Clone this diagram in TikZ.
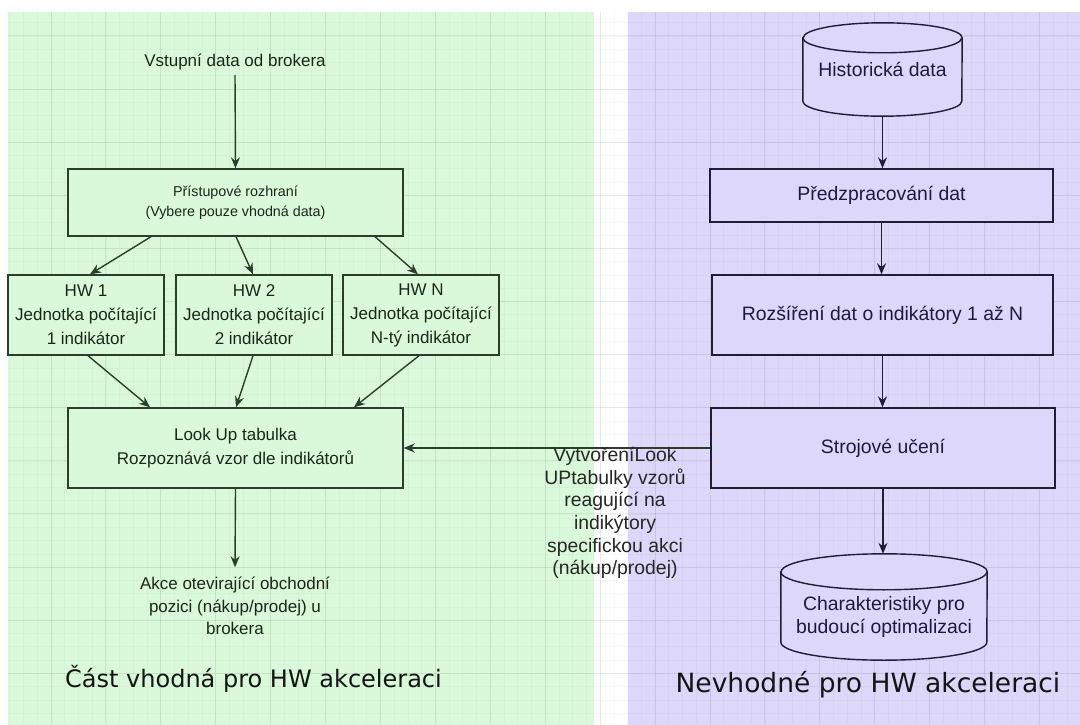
\documentclass[tikz,border=0pt]{standalone}
\usepackage{fontspec}
\setmainfont{Liberation Sans}
\newfontfamily\titlefont{DejaVu Sans}
\usetikzlibrary{arrows.meta}

\definecolor{greenbg}{RGB}{218,249,218}
\definecolor{purplebg}{RGB}{221,216,250}
\definecolor{greenline}{RGB}{42,62,42}
\definecolor{purpleline}{RGB}{32,30,52}
\definecolor{greentext}{RGB}{28,38,24}
\definecolor{purpletext}{RGB}{30,26,60}

\pgfdeclarelayer{canvas}
\pgfdeclarelayer{shapes}
\pgfsetlayers{canvas,shapes,main}

% cylinder outline drawn inside the bounds of a named node
% #1 node, #2 half width, #3 vertical radius of the caps
\newcommand\drawcyl[3]{%
  \path[draw=purpleline, fill=purplebg, line width=1.4pt]
    ([yshift=-#3]#1.north west) -- ([yshift=#3]#1.south west)
    arc[start angle=180, end angle=360, x radius=#2, y radius=#3]
    -- ([yshift=-#3]#1.north east)
    arc[start angle=0, end angle=180, x radius=#2, y radius=#3] -- cycle;
  \draw[purpleline, line width=1.4pt] ([yshift=-#3]#1.north west)
    arc[start angle=180, end angle=360, x radius=#2, y radius=#3];
}

\begin{document}
\begin{tikzpicture}[x=1pt, y=-1pt,
  fsL/.style={font=\fontsize{17}{24}\selectfont},
  fsS/.style={font=\fontsize{14.3}{20}\selectfont},
  fsR/.style={font=\fontsize{19.4}{22.5}\selectfont},
  gbox/.style={draw=greenline, fill=greenbg, line width=1.4pt, text=greentext,
    align=center, inner sep=0pt, fsL},
  pbox/.style={draw=purpleline, fill=purplebg, line width=1.4pt, text=purpletext,
    align=center, inner sep=0pt, fsR},
  gtext/.style={text=greentext, align=center, fsL},
  ptext/.style={text=purpletext, align=center, fsR},
  garr/.style={draw=greenline, line width=1.4pt, -{Stealth[length=11pt, width=9pt]}},
  parr/.style={draw=purpleline, line width=1.4pt, -{Stealth[length=11pt, width=9pt]}},
  gridminor/.style={draw=black, opacity=0.022, line width=0.8pt},
  gridmajor/.style={draw=black, opacity=0.065, line width=1pt},
  title/.style={text=black!92}
]
\useasboundingbox (0,0) rectangle (1080,725);

% ---- page, two regions and the grid ----
\begin{pgfonlayer}{canvas}
  \fill[white] (0,0) rectangle (1080,725);
  \fill[greenbg] (8,12) rectangle (594,725);
  \fill[purplebg] (628,12) rectangle (1080,725);
  \begin{scope}
    \clip (8,12) rectangle (1080,725);
    \foreach \i in {0,...,78} {
      \pgfmathsetmacro\xx{9.8+13.73*\i}
      \draw[gridminor] (\xx,12) -- (\xx,725);
    }
    \foreach \i in {0,...,54} {
      \pgfmathsetmacro\yy{9.44+13.28*\i}
      \draw[gridminor] (8,\yy) -- (1080,\yy);
    }
    \foreach \i in {-1,...,19} {
      \pgfmathsetmacro\xx{51.0+54.92*\i}
      \draw[gridmajor] (\xx,12) -- (\xx,725);
    }
    \foreach \i in {-1,...,13} {
      \pgfmathsetmacro\yy{36.0+53.1*\i}
      \draw[gridmajor] (8,\yy) -- (1080,\yy);
    }
  \end{scope}
\end{pgfonlayer}

% ---- hardware part ----
\node[gtext, inner sep=5pt] (src) at (235,62) {Vstupní data od brokera};
\node[gbox, fsS, minimum width=335pt, minimum height=67pt] (acc) at (235.5,202.5)
  {Přístupové rozhraní\\(Vybere pouze vhodná data)};
\node[gbox, minimum width=156pt, minimum height=80pt] (hw1) at (86,315)
  {HW 1\\Jednotka počítající\\1 indikátor};
\node[gbox, minimum width=156pt, minimum height=80pt] (hw2) at (254,315)
  {HW 2\\Jednotka počítající\\2 indikátor};
\node[gbox, minimum width=156pt, minimum height=80pt] (hwn) at (421,315)
  {HW N\\Jednotka počítající\\N-tý indikátor};
\node[gbox, minimum width=335pt, minimum height=80pt] (lookup) at (235.5,448)
  {Look Up tabulka\\Rozpoznává vzor dle indikátorů};
\node[gtext, font=\fontsize{17}{22.2}\selectfont, inner xsep=2pt, inner ysep=10pt]
  (akce) at (235,606) {Akce otevirající obchodní\\pozici (nákup/prodej) u\\brokera};

\draw[garr] (src.south) -- (acc.north);
\draw[garr] ([xshift=-84.5pt]acc.south) -- ([xshift=4pt]hw1.north);
\draw[garr] ([xshift=0.5pt]acc.south) -- ([xshift=-1pt]hw2.north);
\draw[garr] ([xshift=139.5pt]acc.south) -- ([xshift=-3pt]hwn.north);
\draw[garr] ([xshift=2pt]hw1.south) -- ([xshift=-85.5pt]lookup.north);
\draw[garr] ([xshift=-1pt]hw2.south) -- ([xshift=0.5pt]lookup.north);
\draw[garr] ([xshift=-2pt]hwn.south) -- ([xshift=118.5pt]lookup.north);
\draw[garr] (lookup.south) -- (akce.north);

% ---- software part ----
\node[ptext, inner sep=0pt, minimum width=159pt, minimum height=93pt] (hist) at (882.5,69.5)
  {Historická data};
\node[pbox, minimum width=343pt, minimum height=53pt] (prep) at (881.5,195.5)
  {Předzpracování dat};
\node[pbox, minimum width=341pt, minimum height=80pt] (ext) at (882.5,315)
  {Rozšíření dat o indikátory 1 až N};
\node[pbox, minimum width=344pt, minimum height=80pt] (ml) at (883,448)
  {Strojové učení};
\node[inner sep=0pt, minimum width=206pt, minimum height=106pt] (char) at (884,607) {};
\node[ptext] (charlbl) at (884,617)
  {Charakteristiky pro\\budoucí optimalizaci};

\begin{pgfonlayer}{shapes}
  \drawcyl{hist}{79.5pt}{15pt}
  \drawcyl{char}{103pt}{18pt}
\end{pgfonlayer}

\draw[parr] (hist.south) -- (hist.south |- prep.north);
\draw[parr] (prep.south) -- (prep.south |- ext.north);
\draw[parr] (ext.south) -- (ext.south |- ml.north);
\draw[parr] (ml.south) -- (ml.south |- char.north);

% learned patterns are loaded into the look-up table
\draw[garr] (ml.west) -- (lookup.east);
\node[text=black!85, align=center, font=\fontsize{19.4}{22.7}\selectfont] (lbl) at (615,513)
  {VytvořeníLook\\UPtabulky vzorů\\reagující na\\indikýtory\\specifickou akci\\(nákup/prodej)};

% ---- region captions ----
\node[title, font=\titlefont\fontsize{24}{28}\selectfont] (capL) at (253.5,679)
  {Část vhodná pro HW akceleraci};
\node[title, font=\titlefont\fontsize{26.5}{30}\selectfont] (capR) at (868,685)
  {Nevhodné pro HW akceleraci};
\end{tikzpicture}
\end{document}
